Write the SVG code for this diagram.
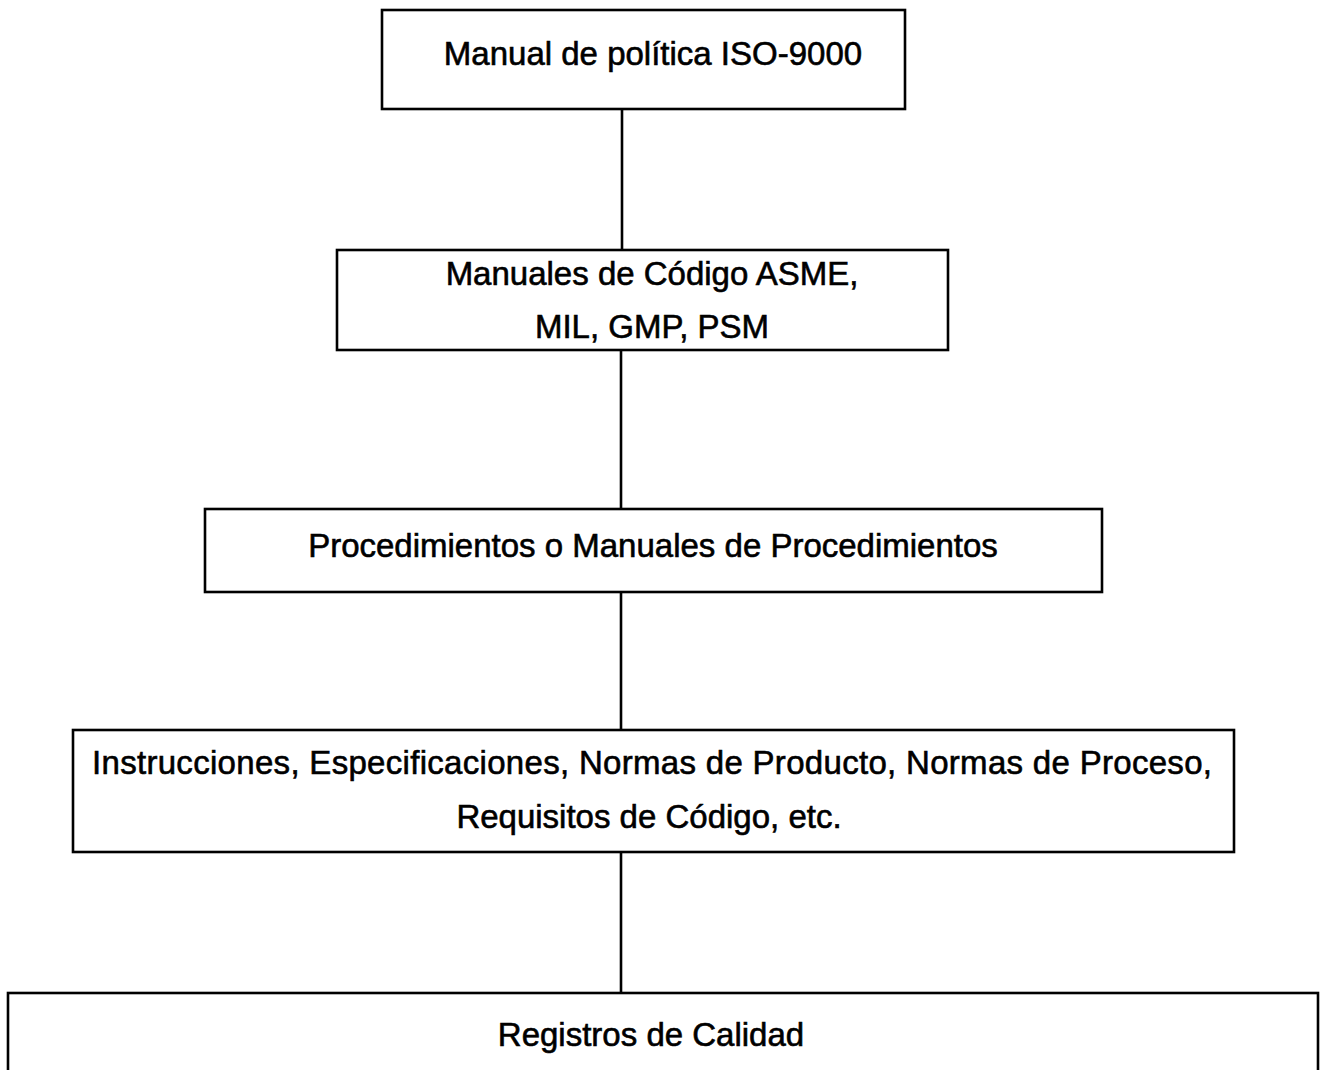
<svg xmlns="http://www.w3.org/2000/svg" width="1320" height="1070" viewBox="0 0 1320 1070">
<style>
.box{fill:#fff;stroke:#000;stroke-width:2.6}
.lbl{font-family:"Liberation Sans",Arial,sans-serif;font-size:33px;fill:#000;stroke:#000;stroke-width:0.6;text-anchor:middle}
.conn{stroke:#000;stroke-width:2.6;fill:none}
</style>
<rect width="1320" height="1070" fill="#fff"/>
<g id="connectors">
<line class="conn" x1="622" y1="109" x2="622" y2="250"/>
<line class="conn" x1="621" y1="350" x2="621" y2="509"/>
<line class="conn" x1="621" y1="592" x2="621" y2="730"/>
<line class="conn" x1="621" y1="852" x2="621" y2="993"/>
</g>
<g id="n1">
<rect class="box" x="382" y="10" width="523" height="99"/>
<text class="lbl" x="653" y="65">Manual de política ISO-9000</text>
</g>
<g id="n2">
<rect class="box" x="337" y="250" width="611" height="100"/>
<text class="lbl" x="652" y="285">Manuales de Código ASME,</text>
<text class="lbl" x="652" y="338">MIL, GMP, PSM</text>
</g>
<g id="n3">
<rect class="box" x="205" y="509" width="897" height="83"/>
<text class="lbl" x="653" y="557">Procedimientos o Manuales de Procedimientos</text>
</g>
<g id="n4">
<rect class="box" x="73" y="730" width="1161" height="122"/>
<text class="lbl" x="652" y="774" textLength="1120" lengthAdjust="spacing">Instrucciones, Especificaciones, Normas de Producto, Normas de Proceso,</text>
<text class="lbl" x="649" y="828">Requisitos de Código, etc.</text>
</g>
<g id="n5">
<rect class="box" x="8" y="993" width="1310" height="100"/>
<text class="lbl" x="651" y="1046">Registros de Calidad</text>
</g>
</svg>
